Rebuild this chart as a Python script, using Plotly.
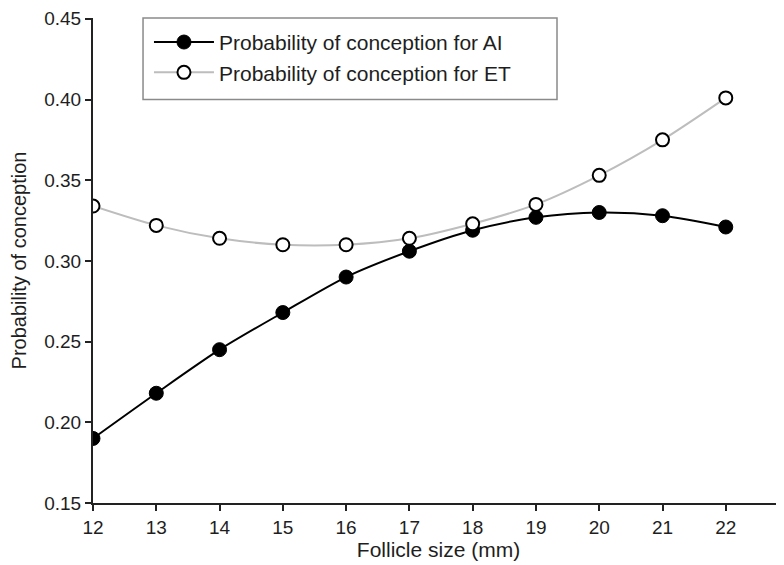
import plotly.graph_objects as go

follicle_size = [12, 13, 14, 15, 16, 17, 18, 19, 20, 21, 22]
prob_ai = [0.190, 0.218, 0.245, 0.268, 0.290, 0.306, 0.319, 0.327, 0.330, 0.328, 0.321]
prob_et = [0.334, 0.322, 0.314, 0.310, 0.310, 0.314, 0.323, 0.335, 0.353, 0.375, 0.401]
y_ticks = [0.15, 0.20, 0.25, 0.30, 0.35, 0.40, 0.45]

FONT = "Liberation Sans, Arial, Helvetica, sans-serif"
TXT = "#1e1e1e"

fig = go.Figure()
fig.add_trace(go.Scatter(
    x=follicle_size, y=prob_ai, mode="lines+markers",
    name="Probability of conception for AI",
    line=dict(color="black", width=2, shape="spline", smoothing=0.8),
    marker=dict(symbol="circle", size=14, color="black", line=dict(color="black", width=1)),
))
fig.add_trace(go.Scatter(
    x=follicle_size, y=prob_et, mode="lines+markers",
    name="Probability of conception for ET",
    line=dict(color="#bdbdbd", width=2, shape="spline", smoothing=0.8),
    marker=dict(symbol="circle", size=13, color="white", line=dict(color="black", width=2)),
))

# legend frame (styling only)
fig.add_shape(type="rect", xref="paper", yref="paper",
              x0=0.0724, x1=0.6715, y0=0.832, y1=1.0,
              line=dict(color="#8a8a8a", width=1.5), fillcolor="white", layer="above")

# page has an 8px body margin, so the figure is shrunk and margins shifted accordingly
fig.update_layout(
    width=776, height=557,
    margin=dict(l=85, r=0, t=10, b=62),
    paper_bgcolor="white", plot_bgcolor="white",
    font=dict(family=FONT, size=19, color=TXT),
    showlegend=True,
    legend=dict(
        x=0.081, y=0.992, xanchor="left", yanchor="top",
        borderwidth=0, bgcolor="rgba(0,0,0,0)",
        font=dict(family=FONT, size=21, color=TXT),
        tracegroupgap=0, itemwidth=60,
    ),
)
fig.update_xaxes(
    range=[12, 22.92], tickmode="array", tickvals=follicle_size,
    ticks="outside", ticklen=6, tickwidth=2, tickcolor="#222",
    showline=True, linecolor="#222", linewidth=2, showgrid=False, zeroline=False,
    automargin=False, ticklabelstandoff=0, ticklabeloverflow="allow",
    tickfont=dict(size=19, color=TXT),
    title=dict(text="Follicle size (mm)", font=dict(size=21, color=TXT), standoff=6),
)
fig.update_yaxes(
    range=[0.15, 0.4505], tickmode="array", tickvals=y_ticks,
    ticktext=[f"{v:.2f}" for v in y_ticks],
    ticks="outside", ticklen=6, tickwidth=2, tickcolor="#222",
    showline=True, linecolor="#222", linewidth=2, showgrid=False, zeroline=False,
    automargin=False, ticklabelstandoff=0, ticklabeloverflow="allow",
    tickfont=dict(size=19, color=TXT),
    title=dict(text="Probability of conception", font=dict(size=20, color=TXT), standoff=12),
)

fig.write_html("out.html")
